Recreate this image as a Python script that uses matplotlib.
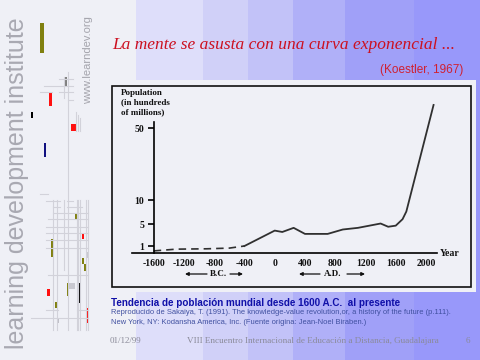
import numpy as np
import matplotlib
matplotlib.use("Agg")
from matplotlib import pyplot as plt
from matplotlib.patches import Rectangle

# population data (hundreds of millions)
bc_years = [-1600, -1300, -900, -600, -400]
bc_pop = [0.3, 0.55, 0.6, 0.7, 1.0]
ad_years = [-400, 0, 100, 250, 400, 700, 900, 1100, 1400, 1500, 1600, 1690, 1740, 2100]
ad_pop = [1.0, 3.8, 3.55, 4.3, 3.2, 3.2, 4.0, 4.3, 5.1, 4.5, 4.7, 6.0, 7.6, 62.8]

x_ticks = [-1600, -1200, -800, -400, 0, 400, 800, 1200, 1600, 2000]
y_ticks = [1, 5, 10, 50]

# the hand-drawn y axis is not linear: value -> pixel height above the axis
scale_vals = [0, 1, 5, 10, 50, 100]
scale_px = [0, 7, 29, 53, 125, 215]

# slide background bands (x edges in px, colours)
band_edges = [136, 203, 248, 293, 345, 414, 480]
band_colors = ["#dedefa", "#d0d0f8", "#c2c2f8", "#b0b0f8", "#a0a0f8", "#9898fa"]

# decorative bits of the left margin: (x0, y0, x1, y1, colour)
deco_rects = [
    (40, 23, 43.7, 52.7, "#808010"), (64.3, 76.7, 67, 86, "#808080"),
    (49, 92.7, 51.7, 105.7, "#ff1010"), (30.7, 111.7, 32.7, 118.3, "#000000"),
    (71, 124.3, 76.7, 130.7, "#ff1010"), (44, 143.3, 46, 156.7, "#101080"),
    (75, 213, 76.7, 219, "#808010"), (81.7, 232.7, 84, 239.3, "#ff1010"),
    (51, 239.3, 53, 257.3, "#808010"), (85.7, 251.7, 88.3, 258.3, "#c8c8d0"),
    (76.7, 257.7, 79, 264.3, "#ff1010"), (81.7, 257.7, 84, 264.3, "#808010"),
    (84, 264.3, 86, 271, "#808010"), (67.3, 283.3, 69, 295.7, "#808010"),
    (69, 283.3, 75, 289.3, "#c8c8d0"), (79, 283.3, 80.7, 302.7, "#000000"),
    (47.3, 289, 49.7, 296, "#ff1010"), (55, 302.3, 57, 308.3, "#808010"),
    (85.7, 308.3, 88, 322.7, "#ff1010"), (56.7, 318, 59, 322.7, "#c0c0c8"),
]
deco_vlines = [(67.7, 72, 330), (64.3, 77, 98), (76, 112, 131), (78.3, 115, 131),
               (80.3, 118, 131), (53.3, 200, 330), (57.3, 200, 330), (64.3, 200, 270),
               (76.7, 200, 330), (78.3, 200, 330), (80, 200, 330), (85.7, 200, 330),
               (88.3, 200, 330)]
deco_hlines = [(86, 44.3, 73.3), (79.3, 59, 73), (91.7, 40, 51.7), (91.7, 59, 73),
               (100, 68, 73), (194.3, 40, 48.3), (200.7, 45.7, 60), (200.7, 66.7, 73.3),
               (206.7, 53, 60), (206.7, 66.7, 81.7), (213.3, 53.3, 88.3),
               (219.3, 48.3, 88.3), (226.7, 45.7, 88.3), (232.7, 45.7, 88.3),
               (240, 45.7, 88.3), (247.7, 45.7, 88.3), (275, 48.3, 88.3),
               (310, 45.7, 58.3), (310, 76.7, 88.3), (318.3, 31, 88.3)]

W, H = 480, 360
page = "#eff0f6"

fig = plt.figure(figsize=(4.8, 3.6), dpi=100)
fig.patch.set_facecolor(page)

# full-slide axes in pixel coordinates (y downwards)
bg = fig.add_axes([0, 0, 1, 1])
bg.set_xlim(0, W)
bg.set_ylim(H, 0)
bg.axis("off")

for i, c in enumerate(band_colors):
    bg.add_patch(Rectangle((band_edges[i], 0), band_edges[i + 1] - band_edges[i], H,
                           facecolor=c, edgecolor="none"))
# light panel behind the chart
bg.add_patch(Rectangle((100, 80), 376, 212, facecolor=page, edgecolor="none"))
bg.add_patch(Rectangle((112, 86), 359, 201, facecolor="none", edgecolor="#101010", lw=1.2))

for y, x0, x1 in deco_hlines:
    bg.plot([x0, x1], [y, y], color="#d2d2da", lw=0.8)
for x, y0, y1 in deco_vlines:
    bg.plot([x, x], [y0, y1], color="#d2d2da", lw=0.8)
for x0, y0, x1, y1, c in deco_rects:
    bg.add_patch(Rectangle((x0, y0), x1 - x0, y1 - y0, facecolor=c, edgecolor="none"))

bg.text(17, 183, "learning development institute", rotation=90, ha="center", va="center",
        fontsize=18, color="#a9a9b2", family="Liberation Sans")
bg.text(88, 60, "www.learndev.org", rotation=90, ha="center", va="center",
        fontsize=8, color="#a4a4ac", family="Liberation Sans")

bg.text(112, 45, "La mente se asusta con una curva exponencial ...", ha="left", va="center",
        fontsize=12.5, style="italic", color="#cc1020", family="Liberation Serif")
bg.text(463, 70, "(Koestler, 1967)", ha="right", va="center",
        fontsize=8.5, color="#d02030", family="Liberation Sans")

bg.text(111, 303, "Tendencia de población mundial desde 1600 A.C.  al presente",
        ha="left", va="center", fontsize=7.1, weight="bold", color="#1010a8",
        family="Liberation Sans")
bg.text(111, 313, "Reproducido de Sakaiya, T. (1991). The knowledge-value revolution,or, "
        "a history of the future (p.111).", ha="left", va="center", fontsize=5.4,
        color="#4050a0", family="Liberation Sans")
bg.text(111, 322.5, "New York, NY: Kodansha America, Inc. (Fuente origina: Jean-Noel Biraben.)",
        ha="left", va="center", fontsize=5.4, color="#4050a0", family="Liberation Sans")

bg.text(110, 341, "01/12/99", ha="left", va="center", fontsize=6.5, color="#8a8a98",
        family="Liberation Serif")
bg.text(187, 341, "VIII Encuentro Internacional de Educación a Distancia, Guadalajara",
        ha="left", va="center", fontsize=6.6, color="#8a8a98", family="Liberation Serif")
bg.text(468, 341, "6", ha="center", va="center", fontsize=6.5, color="#8a8a98",
        family="Liberation Serif")

serif_b = dict(family="Liberation Serif", weight="bold", color="#101010")
bg.text(121, 93, "Population", ha="left", va="center", fontsize=6.5, **serif_b)
bg.text(121, 102.5, "(in hundreds", ha="left", va="center", fontsize=6.5, **serif_b)
bg.text(121, 112, "of millions)", ha="left", va="center", fontsize=6.5, **serif_b)
bg.text(440, 253, "Year", ha="left", va="center", fontsize=7, **serif_b)

for label, xc, a0, a1 in [("B.C.", 218, (185, 207), (230, 243)),
                          ("A.D.", 333, (299, 320), (347, 365))]:
    bg.text(xc, 274, label, ha="center", va="center", fontsize=6.5, **serif_b)
    bg.annotate("", xy=(a0[0], 274), xytext=(a0[1], 274),
                arrowprops=dict(arrowstyle="-|>", color="#101010", lw=0.9,
                                mutation_scale=5, shrinkA=0, shrinkB=0))
    bg.annotate("", xy=(a1[1], 274), xytext=(a1[0], 274),
                arrowprops=dict(arrowstyle="-|>", color="#101010", lw=0.9,
                                mutation_scale=5, shrinkA=0, shrinkB=0))

# chart axes
ax_l, ax_r, ax_b, ax_t = 132, 437, 253, 105
ax = fig.add_axes([ax_l / W, (H - ax_b) / H, (ax_r - ax_l) / W, (ax_b - ax_t) / H])
ax.patch.set_alpha(0)


def fwd(v):
    return np.interp(v, scale_vals, scale_px)


def inv(p):
    return np.interp(p, scale_px, scale_vals)


ax.set_yscale("function", functions=(fwd, inv))
px_per_year = (426 - 153.7) / 3600
ax.set_xlim(-1600 - (153.7 - ax_l) / px_per_year, 2000 + (ax_r - 426) / px_per_year)
ax.set_ylim(0, inv(ax_b - ax_t))

ax.plot(bc_years, bc_pop, color="#303030", lw=1.2, dashes=(4.5, 3), clip_on=False)
ax.plot(ad_years, ad_pop, color="#303030", lw=1.3, clip_on=False, solid_joinstyle="round")

for s in ["top", "right"]:
    ax.spines[s].set_visible(False)
ax.spines["left"].set_position(("data", -1600))
ax.spines["left"].set_bounds(0, inv(131))
ax.spines["left"].set_linewidth(1.2)
ax.spines["bottom"].set_linewidth(1.2)

ax.set_yticks(y_ticks)
ax.set_yticklabels([str(t) for t in y_ticks])
ax.set_xticks(x_ticks)
ax.set_xticklabels([str(t) for t in x_ticks])
ax.tick_params(axis="y", direction="out", length=4, width=1.2, pad=3)
ax.tick_params(axis="x", length=0, pad=4)
for lab in ax.get_xticklabels() + ax.get_yticklabels():
    lab.set_family("Liberation Serif")
    lab.set_weight("bold")
    lab.set_fontsize(7)
    lab.set_color("#101010")

fig.savefig("out.png", dpi=100, facecolor=page)
